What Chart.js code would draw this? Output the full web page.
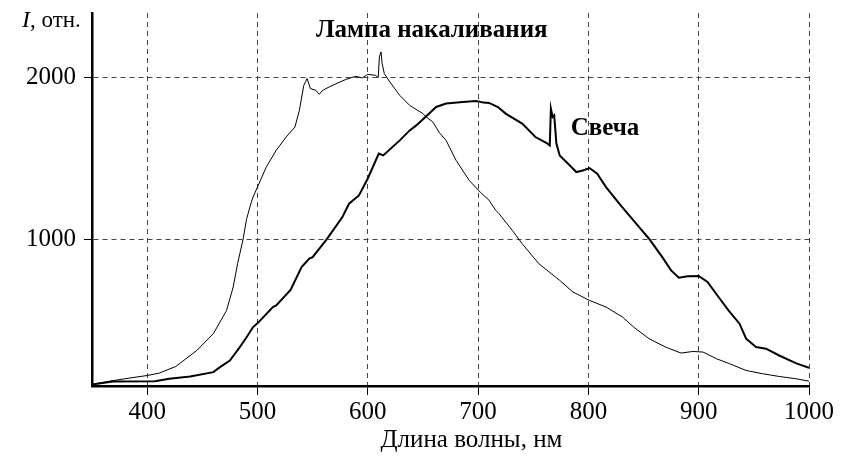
<!DOCTYPE html>
<html lang="ru">
<head>
<meta charset="utf-8">
<title>Спектры: лампа накаливания и свеча</title>
<script src="https://cdn.jsdelivr.net/npm/chart.js@4.4.1/dist/chart.umd.min.js"></script>
<style>
  html, body { margin: 0; padding: 0; background: #fff; }
  #spectrumChart { display: block; }
</style>
</head>
<body>
<canvas id="spectrumChart" width="852" height="458"></canvas>
<script>
// Данные (длина волны, нм / интенсивность, отн.)
const lampWavelength = [350, 366, 380, 400, 411, 426, 445, 460, 472, 478, 482, 487, 490, 494, 496, 500,
  508, 517, 526, 534, 538, 542, 545, 548, 553, 556, 559, 565, 573, 580, 589, 595, 600, 607, 609.5,
  610.5, 612, 613, 615, 620, 629, 638, 650, 653, 659, 665, 671, 674, 680, 692, 702, 710, 716, 719,
  731, 740, 755, 774, 786, 801, 816, 831, 841, 855, 870, 884, 895, 904, 916, 928, 943, 958, 973, 988, 1000];
const lampIntensity = [100, 120, 135, 155, 170, 211, 310, 414, 558, 703, 848, 1000, 1120, 1219, 1260, 1322,
  1446, 1550, 1632, 1694, 1797, 1952, 1994, 1932, 1921, 1896, 1921, 1942, 1967, 1988, 2008, 1998, 2020, 2014, 2000,
  2128, 2159, 2088, 2025, 1973, 1890, 1828, 1777, 1756, 1725, 1658, 1611, 1570, 1488, 1363, 1290, 1240, 1178, 1157,
  1054, 971, 848, 744, 672, 620, 579, 517, 455, 383, 331, 294, 304, 300, 259, 228, 186, 166, 149, 135, 120];

const candleWavelength = [350, 369, 407, 420, 439, 460, 466, 475, 484, 490, 496, 500, 514, 517, 530, 540,
  547, 550, 562, 565, 577, 583, 592, 600, 610, 614, 629, 638, 644, 653, 662, 671, 686, 698, 705, 710,
  718, 725, 740, 752, 763, 765, 766, 767.6, 769, 771, 774, 783, 789, 795, 801, 808, 816, 828, 837, 846,
  855, 867, 875, 882, 890, 900, 908, 918, 927, 937, 943, 952, 961, 973, 988, 1000];
const candleIntensity = [100, 118, 120, 135, 149, 176, 207, 248, 331, 390, 455, 478, 579, 589, 685, 827,
  879, 888, 992, 1020, 1136, 1219, 1270, 1375, 1529, 1518, 1611, 1673, 1704, 1760, 1818, 1839, 1849, 1855, 1845, 1843,
  1818, 1777, 1715, 1632, 1591, 1580, 1808, 1756, 1766, 1591, 1518, 1457, 1415, 1425, 1440, 1405, 1322, 1219, 1147, 1074,
  1002, 888, 806, 761, 769, 771, 734, 641, 558, 476, 383, 331, 321, 279, 232, 203];

const xTicks = [400, 500, 600, 700, 800, 900, 1000];
const yTicks = [1000, 2000];

const serif = '"Liberation Serif", "Times New Roman", serif';

function toPoints(xs, ys) {
  return xs.map((x, i) => ({ x: x, y: ys[i] }));
}

// Подписи: ось I, ось X и названия кривых
const labelsPlugin = {
  id: 'labels',
  afterDraw(chart) {
    const c = chart.ctx;
    const area = chart.chartArea;
    const sx = chart.scales.x;
    const sy = chart.scales.y;
    c.save();
    c.fillStyle = '#000';
    c.textBaseline = 'alphabetic';

    // "I, отн." над осью
    c.textAlign = 'left';
    c.font = 'italic 24px ' + serif;
    const ix = area.left - 70;
    const iy = area.top + 14;
    c.fillText('I', ix, iy);
    const iw = c.measureText('I').width;
    c.font = '23px ' + serif;
    c.fillText(', отн.', ix + iw, iy);

    // подпись оси X
    c.textAlign = 'center';
    c.textBaseline = 'middle';
    c.font = '25px ' + serif;
    c.fillText('Длина волны, нм', sx.getPixelForValue(694), area.bottom + 54);

    c.font = 'bold 25px ' + serif;
    c.fillText('Лампа накаливания', sx.getPixelForValue(658), sy.getPixelForValue(2293));
    c.textAlign = 'left';
    c.fillText('Свеча', sx.getPixelForValue(784), sy.getPixelForValue(1686));
    c.restore();
  }
};

const ctx = document.getElementById('spectrumChart').getContext('2d');
const chart = new Chart(ctx, {
  type: 'scatter',
  data: {
    datasets: [{
      label: 'Лампа накаливания',
      data: toPoints(lampWavelength, lampIntensity),
      showLine: true,
      borderColor: '#000',
      borderWidth: 1,
      pointRadius: 0,
      tension: 0
    }, {
      label: 'Свеча',
      data: toPoints(candleWavelength, candleIntensity),
      showLine: true,
      borderColor: '#000',
      borderWidth: 2,
      pointRadius: 0,
      tension: 0
    }]
  },
  options: {
    responsive: false,
    animation: false,
    devicePixelRatio: 1,
    layout: { padding: { top: 13, right: 43, left: 0, bottom: 0 } },
    plugins: {
      legend: { display: false },
      tooltip: { enabled: false }
    },
    scales: {
      x: {
        type: 'linear',
        min: 350,
        max: 1000,
        afterBuildTicks: scale => { scale.ticks = xTicks.map(v => ({ value: v })); },
        afterFit: scale => {
          scale.height = 72;
          scale.paddingLeft = 0;
          scale.paddingRight = 0;
        },
        border: { display: true, color: '#000', width: 2.5, dash: [5, 4] },
        grid: {
          color: '#444',
          lineWidth: 1,
          drawTicks: true,
          tickLength: 9,
          tickColor: '#000',
          tickBorderDash: []
        },
        ticks: {
          color: '#000',
          padding: 2,
          maxRotation: 0,
          callback: v => String(v),
          font: { family: serif, size: 25 }
        }
      },
      y: {
        type: 'linear',
        min: 90,
        max: 2400,
        afterBuildTicks: scale => { scale.ticks = yTicks.map(v => ({ value: v })); },
        afterFit: scale => {
          scale.width = 92;
          scale.paddingTop = 0;
          scale.paddingBottom = 0;
        },
        border: { display: true, color: '#000', width: 2.5, dash: [5, 4] },
        grid: {
          color: '#444',
          lineWidth: 1,
          drawTicks: true,
          tickLength: 8,
          tickColor: '#000',
          tickBorderDash: []
        },
        ticks: {
          color: '#000',
          padding: 8,
          callback: v => String(v),
          font: { family: serif, size: 25 }
        }
      }
    }
  },
  plugins: [labelsPlugin]
});
</script>
</body>
</html>
